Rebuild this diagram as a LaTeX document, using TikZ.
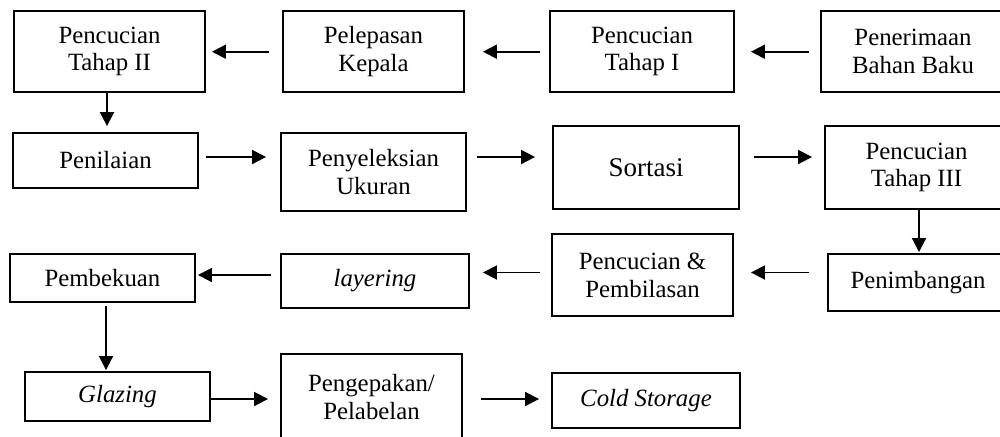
\documentclass[tikz,border=0pt]{standalone}
\usepackage{fontspec}
\setmainfont{Liberation Serif}
\usetikzlibrary{arrows.meta,calc}
\begin{document}
\begin{tikzpicture}[x=0.5pt,y=-0.5pt,
  box/.style={draw,line width=0.95pt,inner sep=0pt,align=center,font=\fontsize{12.4}{13.9}\selectfont},
  arr/.style={line width=0.95pt,-{Triangle[length=7pt,width=7pt]}}]
\useasboundingbox (0,0) rectangle (1000,436);
% row 1
\node[box,minimum width=92pt,minimum height=40.5pt] (A) at (913,51.5) {Penerimaan\\Bahan Baku};
\node[box,minimum width=92pt,minimum height=40.5pt] (B) at (642,51.5) {Pencucian\\Tahap I};
\node[box,minimum width=90.5pt,minimum height=40.5pt] (C) at (373.5,51.5) {Pelepasan\\Kepala};
\node[box,minimum width=95.5pt,minimum height=40.5pt] (D) at (109.5,51.5) {Pencucian\\Tahap II};
% row 2
\node[box,minimum width=92.5pt,minimum height=27.5pt] (E) at (105.5,160.5) {Penilaian};
\node[box,minimum width=92.5pt,minimum height=39pt] (F) at (373.5,172) {Penyeleksian\\Ukuran};
\node[box,minimum width=93pt,minimum height=41.5pt,font=\fontsize{13.5}{15}\selectfont] (G) at (646,167.5) {Sortasi};
\node[box,minimum width=91.5pt,minimum height=41.5pt] (H) at (916.5,167.5) {Pencucian\\Tahap III};
% row 3
\node[box,minimum width=90pt,minimum height=28.5pt] (I) at (918,282.5) {Penimbangan};
\node[box,minimum width=90.5pt,minimum height=41pt] (J) at (642.5,275) {Pencucian \&\\Pembilasan};
\node[box,minimum width=94pt,minimum height=27pt] (K) at (375,281) {\itshape layering};
\node[box,minimum width=92.5pt,minimum height=24pt] (L) at (102.5,278) {Pembekuan};
% row 4
\node[box,minimum width=92.5pt,minimum height=24.5pt] (M) at (117.5,396.5) {\itshape Glazing};
\node[box,minimum width=90.5pt,minimum height=43pt] (N) at (371.5,397) {Pengepakan/\\Pelabelan};
\node[box,minimum width=94pt,minimum height=27.5pt] (O) at (646,400.5) {\itshape Cold Storage};
% helper coordinates
\coordinate (y1) at (0,51.7);
\coordinate (y2) at (0,157);
\coordinate (y3a) at (0,272.5);
\coordinate (y3b) at (0,275);
\coordinate (y4) at (0,399);
\coordinate (x1) at (107,0);
\coordinate (x2) at (919,0);
\coordinate (x3) at (106,0);
% connectors
\draw[arr] ($(A.west|-y1)+(-11,0)$) -- ($(B.east|-y1)+(16,0)$);
\draw[arr] ($(B.west|-y1)+(-9,0)$) -- ($(C.east|-y1)+(18,0)$);
\draw[arr] ($(C.west|-y1)+(-13,0)$) -- ($(D.east|-y1)+(6,0)$);
\draw[arr] (D.south-|x1) -- ($(E.north-|x1)+(0,-6)$);
\draw[arr] ($(E.east|-y2)+(7,0)$) -- ($(F.west|-y2)+(-14,0)$);
\draw[arr] ($(F.east|-y2)+(10,0)$) -- ($(G.west|-y2)+(-17,0)$);
\draw[arr] ($(G.east|-y2)+(14,0)$) -- ($(H.west|-y2)+(-12,0)$);
\draw[arr] (H.south-|x2) -- ($(I.north-|x2)+(0,-1)$);
\draw[arr] ($(I.west|-y3a)+(-18,0)$) -- ($(J.east|-y3a)+(17,0)$);
\draw[arr] ($(J.west|-y3a)+(-11,0)$) -- ($(K.east|-y3a)+(13,0)$);
\draw[arr] ($(K.west|-y3b)+(-9,0)$) -- ($(L.east|-y3b)+(2,0)$);
\draw[arr] ($(L.south-|x3)+(0,3)$) -- ($(M.north-|x3)+(0,-1)$);
\draw[arr] (M.east|-y4) -- ($(N.west|-y4)+(-12,0)$);
\draw[arr] ($(N.east|-y4)+(18,0)$) -- ($(O.west|-y4)+(-12,0)$);
\end{tikzpicture}
\end{document}
